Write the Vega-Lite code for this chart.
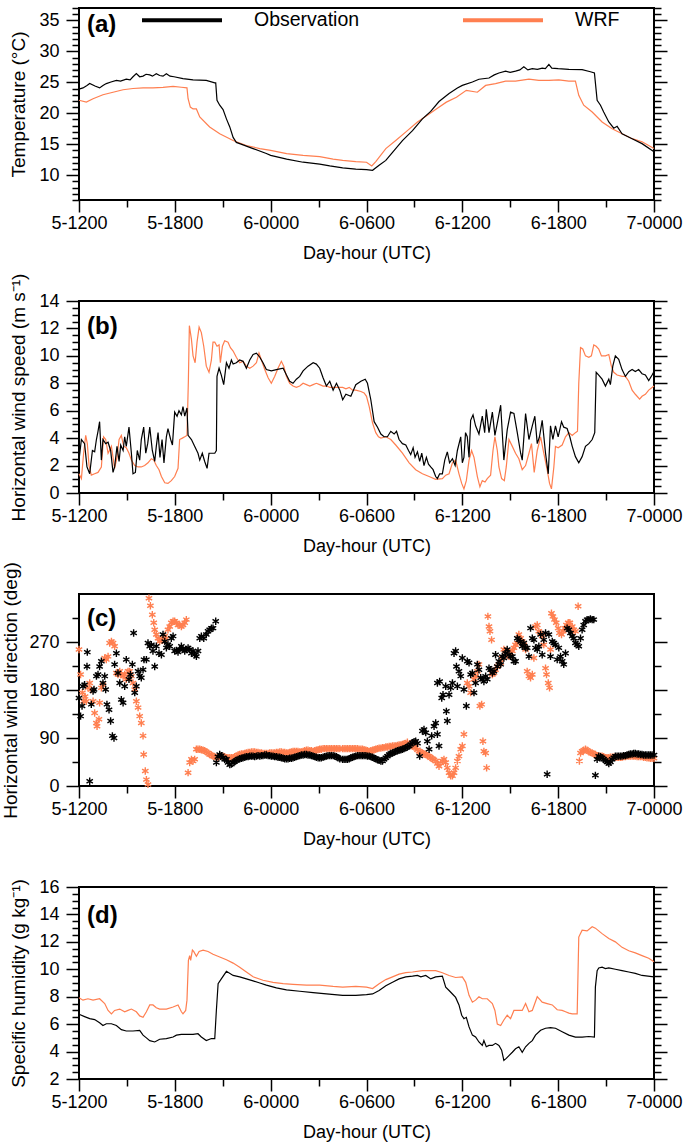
{
"$schema": "https://vega.github.io/schema/vega-lite/v6.json",
"background": "white",
"padding": {"left": 0, "top": 6, "right": 0, "bottom": 0},
"bounds": "flush",
"spacing": 101,
"config": {
  "font": "Liberation Sans",
  "view": {"stroke": "black", "strokeWidth": 2},
  "axis": {"grid": false, "domain": false, "tickColor": "black", "tickWidth": 1.5, "labelColor": "black", "labelFontSize": 18, "labelFont": "Liberation Sans", "titleFont": "Liberation Sans", "titleFontSize": 19, "titleFontWeight": "normal", "titleColor": "black", "labelOverlap": false, "labelFlush": false},
  "title": {"font": "Liberation Sans", "fontSize": 24, "fontWeight": "bold", "color": "black", "anchor": "start", "frame": "group", "baseline": "alphabetic", "dx": 8}
},
"resolve": {"scale": {"color": "independent"}, "legend": {"color": "independent"}},
"datasets": {
"aObs": [{"h":0,"v":23.9},{"h":0.25,"v":24.1},{"h":0.5,"v":24.5},{"h":0.67,"v":24.8},{"h":1.0,"v":24.4},{"h":1.29,"v":24.1},{"h":1.5,"v":24.5},{"h":1.71,"v":24.8},{"h":2.0,"v":25.05},{"h":2.34,"v":25.3},{"h":2.6,"v":25.2},{"h":2.96,"v":25.5},{"h":3.2,"v":25.4},{"h":3.38,"v":25.9},{"h":3.59,"v":26.4},{"h":3.8,"v":25.9},{"h":4.01,"v":26.0},{"h":4.2,"v":26.3},{"h":4.43,"v":26.2},{"h":4.6,"v":26.0},{"h":4.84,"v":26.4},{"h":5.05,"v":26.1},{"h":5.26,"v":26.0},{"h":5.47,"v":26.4},{"h":5.7,"v":26.0},{"h":5.95,"v":25.9},{"h":6.51,"v":25.6},{"h":7.14,"v":25.4},{"h":7.97,"v":25.3},{"h":8.5,"v":24.9},{"h":8.56,"v":24.9},{"h":8.64,"v":22.1},{"h":8.81,"v":21.3},{"h":9.02,"v":20.6},{"h":9.23,"v":19.1},{"h":9.44,"v":17.8},{"h":9.65,"v":16.1},{"h":9.85,"v":15.3},{"h":10.06,"v":15.1},{"h":10.9,"v":14.3},{"h":11.73,"v":13.5},{"h":12.0,"v":13.2},{"h":13.0,"v":12.6},{"h":14.03,"v":12.1},{"h":15.07,"v":11.8},{"h":15.7,"v":11.5},{"h":16.51,"v":11.2},{"h":17.33,"v":11.0},{"h":18.0,"v":10.9},{"h":18.38,"v":10.8},{"h":18.79,"v":11.6},{"h":19.21,"v":12.4},{"h":19.63,"v":13.7},{"h":20.25,"v":15.6},{"h":20.88,"v":17.2},{"h":21.5,"v":19.1},{"h":22.02,"v":20.3},{"h":22.54,"v":21.9},{"h":23.17,"v":23.2},{"h":23.69,"v":24.1},{"h":24.0,"v":24.5},{"h":24.63,"v":25.05},{"h":25.04,"v":25.5},{"h":25.67,"v":25.7},{"h":26.0,"v":26.2},{"h":26.29,"v":26.5},{"h":26.71,"v":26.8},{"h":27.0,"v":26.6},{"h":27.33,"v":26.8},{"h":27.6,"v":27.0},{"h":27.85,"v":27.5},{"h":28.1,"v":27.0},{"h":28.38,"v":27.2},{"h":28.7,"v":27.1},{"h":29.0,"v":27.3},{"h":29.2,"v":27.2},{"h":29.42,"v":27.9},{"h":29.6,"v":27.3},{"h":30.0,"v":27.2},{"h":30.67,"v":27.1},{"h":31.5,"v":27.05},{"h":32.02,"v":26.7},{"h":32.27,"v":26.5},{"h":32.44,"v":22.1},{"h":32.65,"v":21.3},{"h":32.85,"v":20.2},{"h":33.17,"v":18.6},{"h":33.48,"v":17.6},{"h":33.69,"v":17.9},{"h":34.0,"v":16.7},{"h":34.63,"v":15.9},{"h":35.25,"v":15.1},{"h":36,"v":13.8}],
"aWrf": [{"h":0,"v":22.1},{"h":0.46,"v":21.8},{"h":0.88,"v":22.35},{"h":1.5,"v":23.0},{"h":2.13,"v":23.4},{"h":2.76,"v":23.8},{"h":3.38,"v":24.0},{"h":4.01,"v":24.1},{"h":4.63,"v":24.1},{"h":5.26,"v":24.2},{"h":5.89,"v":24.35},{"h":6.41,"v":24.2},{"h":6.76,"v":24.1},{"h":6.83,"v":22.35},{"h":6.97,"v":21.0},{"h":7.14,"v":20.7},{"h":7.35,"v":20.7},{"h":7.56,"v":19.4},{"h":8.18,"v":17.8},{"h":8.81,"v":16.7},{"h":9.65,"v":15.6},{"h":10.48,"v":14.8},{"h":11.32,"v":14.3},{"h":12.0,"v":14.0},{"h":13.0,"v":13.5},{"h":14.03,"v":13.2},{"h":15.07,"v":13.0},{"h":15.91,"v":12.6},{"h":16.51,"v":12.4},{"h":17.33,"v":12.2},{"h":18.0,"v":12.1},{"h":18.33,"v":11.5},{"h":18.58,"v":12.2},{"h":19.21,"v":14.3},{"h":19.83,"v":15.6},{"h":20.56,"v":17.2},{"h":21.19,"v":18.6},{"h":21.81,"v":19.7},{"h":22.44,"v":20.8},{"h":23.0,"v":21.8},{"h":23.63,"v":22.6},{"h":24.25,"v":23.7},{"h":24.94,"v":23.4},{"h":25.46,"v":24.5},{"h":26.08,"v":24.8},{"h":26.71,"v":25.2},{"h":27.33,"v":25.2},{"h":28.17,"v":25.5},{"h":28.79,"v":25.3},{"h":29.42,"v":25.3},{"h":30.04,"v":25.4},{"h":30.67,"v":25.2},{"h":31.08,"v":25.2},{"h":31.29,"v":22.9},{"h":31.6,"v":21.3},{"h":32.13,"v":20.2},{"h":32.75,"v":18.6},{"h":33.38,"v":17.5},{"h":34.0,"v":16.7},{"h":34.63,"v":15.9},{"h":35.25,"v":15.4},{"h":36,"v":14.3}],
"bObs": [{"h":0,"v":2.4},{"h":0.15,"v":3.9},{"h":0.35,"v":3.6},{"h":0.5,"v":1.9},{"h":0.67,"v":1.4},{"h":0.84,"v":3.1},{"h":0.98,"v":3.0},{"h":1.09,"v":3.9},{"h":1.19,"v":4.5},{"h":1.29,"v":5.2},{"h":1.4,"v":2.4},{"h":1.5,"v":3.9},{"h":1.67,"v":3.6},{"h":1.82,"v":3.7},{"h":1.98,"v":3.1},{"h":2.13,"v":1.5},{"h":2.23,"v":1.9},{"h":2.38,"v":3.4},{"h":2.51,"v":2.3},{"h":2.61,"v":3.5},{"h":2.76,"v":3.1},{"h":2.86,"v":4.1},{"h":2.96,"v":3.4},{"h":3.13,"v":4.8},{"h":3.28,"v":2.9},{"h":3.38,"v":1.4},{"h":3.53,"v":1.5},{"h":3.65,"v":3.1},{"h":3.8,"v":2.4},{"h":3.9,"v":3.9},{"h":4.05,"v":4.8},{"h":4.18,"v":2.9},{"h":4.3,"v":3.6},{"h":4.43,"v":4.8},{"h":4.59,"v":3.1},{"h":4.74,"v":2.3},{"h":4.84,"v":3.4},{"h":4.95,"v":4.4},{"h":5.07,"v":2.6},{"h":5.2,"v":3.9},{"h":5.32,"v":2.2},{"h":5.47,"v":4.1},{"h":5.57,"v":4.7},{"h":5.74,"v":3.9},{"h":5.85,"v":3.5},{"h":5.99,"v":5.9},{"h":6.14,"v":5.6},{"h":6.26,"v":6.0},{"h":6.41,"v":5.7},{"h":6.51,"v":6.3},{"h":6.62,"v":5.6},{"h":6.76,"v":6.2},{"h":6.83,"v":4.2},{"h":7.04,"v":3.9},{"h":7.24,"v":3.4},{"h":7.45,"v":2.9},{"h":7.56,"v":2.4},{"h":7.72,"v":2.9},{"h":7.87,"v":2.3},{"h":8.02,"v":1.8},{"h":8.14,"v":2.9},{"h":8.29,"v":2.9},{"h":8.5,"v":2.9},{"h":8.6,"v":3.1},{"h":8.64,"v":8.5},{"h":8.77,"v":9.1},{"h":8.91,"v":8.6},{"h":9.06,"v":7.9},{"h":9.23,"v":9.5},{"h":9.39,"v":9.1},{"h":9.54,"v":9.7},{"h":9.65,"v":9.4},{"h":9.85,"v":9.5},{"h":10.06,"v":9.7},{"h":10.27,"v":9.6},{"h":10.48,"v":9.1},{"h":10.69,"v":9.7},{"h":10.9,"v":10.1},{"h":11.11,"v":10.2},{"h":11.32,"v":9.9},{"h":11.52,"v":9.5},{"h":11.73,"v":9.0},{"h":12.04,"v":8.9},{"h":12.36,"v":9.0},{"h":12.78,"v":9.1},{"h":12.99,"v":8.6},{"h":13.19,"v":8.15},{"h":13.4,"v":8.0},{"h":13.61,"v":8.3},{"h":13.82,"v":8.5},{"h":14.03,"v":8.9},{"h":14.34,"v":9.25},{"h":14.66,"v":9.5},{"h":14.86,"v":9.4},{"h":15.07,"v":9.1},{"h":15.28,"v":8.4},{"h":15.49,"v":7.8},{"h":15.7,"v":8.15},{"h":15.91,"v":7.5},{"h":16.12,"v":8.0},{"h":16.33,"v":7.5},{"h":16.51,"v":6.8},{"h":16.71,"v":7.2},{"h":17.02,"v":7.05},{"h":17.33,"v":7.9},{"h":17.65,"v":8.15},{"h":17.92,"v":8.3},{"h":18.06,"v":8.0},{"h":18.27,"v":6.8},{"h":18.48,"v":5.2},{"h":18.69,"v":4.8},{"h":18.9,"v":4.3},{"h":19.1,"v":4.1},{"h":19.31,"v":4.1},{"h":19.52,"v":4.5},{"h":19.73,"v":4.3},{"h":19.88,"v":4.5},{"h":20.04,"v":3.9},{"h":20.25,"v":3.6},{"h":20.46,"v":3.5},{"h":20.63,"v":3.1},{"h":20.77,"v":2.8},{"h":20.92,"v":3.3},{"h":21.04,"v":2.6},{"h":21.19,"v":3.0},{"h":21.33,"v":2.3},{"h":21.46,"v":2.9},{"h":21.6,"v":2.0},{"h":21.75,"v":2.6},{"h":21.88,"v":2.1},{"h":22.02,"v":1.9},{"h":22.17,"v":1.7},{"h":22.33,"v":1.2},{"h":22.44,"v":1.05},{"h":22.58,"v":1.4},{"h":22.75,"v":1.4},{"h":22.9,"v":2.4},{"h":23.06,"v":3.0},{"h":23.2,"v":2.2},{"h":23.38,"v":2.5},{"h":23.55,"v":2.0},{"h":23.69,"v":3.1},{"h":23.9,"v":4.1},{"h":24.0,"v":2.2},{"h":24.1,"v":2.6},{"h":24.2,"v":4.4},{"h":24.31,"v":4.1},{"h":24.42,"v":2.6},{"h":24.52,"v":5.3},{"h":24.67,"v":5.7},{"h":24.83,"v":4.9},{"h":25.04,"v":4.3},{"h":25.25,"v":5.6},{"h":25.4,"v":4.4},{"h":25.5,"v":6.1},{"h":25.67,"v":4.4},{"h":25.88,"v":5.9},{"h":26.04,"v":4.2},{"h":26.19,"v":5.1},{"h":26.4,"v":6.4},{"h":26.6,"v":2.4},{"h":26.81,"v":4.6},{"h":27.02,"v":5.9},{"h":27.23,"v":5.8},{"h":27.44,"v":4.4},{"h":27.65,"v":2.9},{"h":27.75,"v":2.4},{"h":27.96,"v":5.8},{"h":28.17,"v":3.9},{"h":28.38,"v":4.9},{"h":28.54,"v":5.6},{"h":28.69,"v":3.6},{"h":28.83,"v":4.1},{"h":29.0,"v":5.3},{"h":29.21,"v":2.9},{"h":29.38,"v":1.4},{"h":29.52,"v":4.9},{"h":29.67,"v":3.9},{"h":29.83,"v":4.9},{"h":30.0,"v":4.1},{"h":30.21,"v":5.2},{"h":30.35,"v":4.8},{"h":30.56,"v":4.7},{"h":30.73,"v":4.1},{"h":30.88,"v":3.4},{"h":31.08,"v":2.65},{"h":31.29,"v":2.2},{"h":31.5,"v":2.65},{"h":31.71,"v":3.4},{"h":31.92,"v":3.6},{"h":32.13,"v":3.9},{"h":32.29,"v":4.4},{"h":32.38,"v":8.8},{"h":32.54,"v":8.6},{"h":32.75,"v":8.3},{"h":32.96,"v":7.8},{"h":33.17,"v":8.3},{"h":33.27,"v":7.9},{"h":33.42,"v":9.25},{"h":33.58,"v":10.0},{"h":33.79,"v":9.75},{"h":34.0,"v":9.0},{"h":34.21,"v":8.5},{"h":34.42,"v":8.85},{"h":34.63,"v":9.0},{"h":34.83,"v":8.85},{"h":35.04,"v":9.0},{"h":35.25,"v":8.7},{"h":35.46,"v":8.6},{"h":35.67,"v":8.2},{"h":35.88,"v":8.6},{"h":36,"v":8.85}],
"bWrf": [{"h":0,"v":1.4},{"h":0.15,"v":1.05},{"h":0.29,"v":2.9},{"h":0.42,"v":4.2},{"h":0.52,"v":3.6},{"h":0.63,"v":2.0},{"h":0.77,"v":1.3},{"h":0.98,"v":1.4},{"h":1.19,"v":1.5},{"h":1.4,"v":1.9},{"h":1.54,"v":4.1},{"h":1.67,"v":3.9},{"h":1.82,"v":2.9},{"h":2.03,"v":3.4},{"h":2.23,"v":1.8},{"h":2.38,"v":2.6},{"h":2.51,"v":3.9},{"h":2.65,"v":4.2},{"h":2.8,"v":3.4},{"h":2.96,"v":3.3},{"h":3.13,"v":2.9},{"h":3.28,"v":2.4},{"h":3.49,"v":2.0},{"h":3.7,"v":1.9},{"h":3.9,"v":1.9},{"h":4.11,"v":2.0},{"h":4.32,"v":2.2},{"h":4.53,"v":2.5},{"h":4.68,"v":2.4},{"h":4.84,"v":2.0},{"h":5.01,"v":1.7},{"h":5.16,"v":1.2},{"h":5.37,"v":0.75},{"h":5.57,"v":0.7},{"h":5.78,"v":0.9},{"h":5.99,"v":1.2},{"h":6.2,"v":1.8},{"h":6.3,"v":3.9},{"h":6.47,"v":4.0},{"h":6.62,"v":4.1},{"h":6.76,"v":4.2},{"h":6.85,"v":8.3},{"h":6.91,"v":12.2},{"h":7.04,"v":11.2},{"h":7.14,"v":10.0},{"h":7.27,"v":9.5},{"h":7.39,"v":11.0},{"h":7.52,"v":12.1},{"h":7.66,"v":11.7},{"h":7.81,"v":10.7},{"h":7.97,"v":9.25},{"h":8.14,"v":8.8},{"h":8.29,"v":9.7},{"h":8.39,"v":11.0},{"h":8.5,"v":11.0},{"h":8.64,"v":10.7},{"h":8.77,"v":10.8},{"h":8.85,"v":9.5},{"h":8.98,"v":10.7},{"h":9.12,"v":11.1},{"h":9.33,"v":11.0},{"h":9.48,"v":10.6},{"h":9.65,"v":10.35},{"h":9.85,"v":9.9},{"h":10.06,"v":9.5},{"h":10.27,"v":9.6},{"h":10.48,"v":9.25},{"h":10.69,"v":9.1},{"h":10.9,"v":9.25},{"h":11.11,"v":9.5},{"h":11.27,"v":10.2},{"h":11.42,"v":9.7},{"h":11.63,"v":9.0},{"h":11.84,"v":8.4},{"h":12.04,"v":8.0},{"h":12.25,"v":8.5},{"h":12.46,"v":9.1},{"h":12.67,"v":9.6},{"h":12.82,"v":9.25},{"h":12.99,"v":8.5},{"h":13.19,"v":8.0},{"h":13.4,"v":7.8},{"h":13.61,"v":7.7},{"h":13.82,"v":7.8},{"h":14.03,"v":8.0},{"h":14.24,"v":7.9},{"h":14.45,"v":7.8},{"h":14.66,"v":7.9},{"h":14.86,"v":8.0},{"h":15.07,"v":7.9},{"h":15.28,"v":7.8},{"h":15.49,"v":7.8},{"h":15.7,"v":7.7},{"h":15.91,"v":7.7},{"h":16.12,"v":7.7},{"h":16.51,"v":7.7},{"h":16.71,"v":7.6},{"h":16.92,"v":7.7},{"h":17.13,"v":7.5},{"h":17.33,"v":7.5},{"h":17.65,"v":7.4},{"h":17.85,"v":7.3},{"h":18.0,"v":7.05},{"h":18.17,"v":6.3},{"h":18.38,"v":5.1},{"h":18.58,"v":4.4},{"h":18.75,"v":4.1},{"h":18.9,"v":4.0},{"h":19.21,"v":4.1},{"h":19.52,"v":3.9},{"h":19.83,"v":3.5},{"h":20.25,"v":2.9},{"h":20.67,"v":2.2},{"h":21.08,"v":1.7},{"h":21.5,"v":1.4},{"h":21.92,"v":1.2},{"h":22.33,"v":1.0},{"h":22.75,"v":1.05},{"h":22.96,"v":1.3},{"h":23.17,"v":1.4},{"h":23.38,"v":2.2},{"h":23.58,"v":2.4},{"h":23.79,"v":1.4},{"h":23.96,"v":0.7},{"h":24.1,"v":0.3},{"h":24.25,"v":0.9},{"h":24.42,"v":2.4},{"h":24.58,"v":3.1},{"h":24.73,"v":2.6},{"h":24.94,"v":1.2},{"h":25.1,"v":0.45},{"h":25.25,"v":0.9},{"h":25.42,"v":0.8},{"h":25.56,"v":1.05},{"h":25.77,"v":1.3},{"h":25.92,"v":3.1},{"h":26.04,"v":4.1},{"h":26.19,"v":3.1},{"h":26.29,"v":1.9},{"h":26.46,"v":1.05},{"h":26.63,"v":0.9},{"h":26.75,"v":1.9},{"h":26.92,"v":3.9},{"h":27.13,"v":3.4},{"h":27.33,"v":2.9},{"h":27.54,"v":2.5},{"h":27.75,"v":1.7},{"h":27.96,"v":2.0},{"h":28.17,"v":2.9},{"h":28.33,"v":3.6},{"h":28.5,"v":1.5},{"h":28.69,"v":3.1},{"h":28.9,"v":4.1},{"h":29.1,"v":2.9},{"h":29.31,"v":1.7},{"h":29.46,"v":0.7},{"h":29.58,"v":0.3},{"h":29.73,"v":1.9},{"h":29.83,"v":3.4},{"h":30.0,"v":3.3},{"h":30.25,"v":3.5},{"h":30.46,"v":4.1},{"h":30.67,"v":4.4},{"h":30.88,"v":4.2},{"h":31.08,"v":4.4},{"h":31.21,"v":4.5},{"h":31.29,"v":8.0},{"h":31.4,"v":10.6},{"h":31.54,"v":10.5},{"h":31.71,"v":10.0},{"h":31.92,"v":9.9},{"h":32.08,"v":10.0},{"h":32.23,"v":10.8},{"h":32.38,"v":10.7},{"h":32.54,"v":10.5},{"h":32.71,"v":10.0},{"h":32.96,"v":10.0},{"h":33.17,"v":10.1},{"h":33.33,"v":9.25},{"h":33.48,"v":8.8},{"h":33.69,"v":8.6},{"h":34.0,"v":8.5},{"h":34.21,"v":8.5},{"h":34.42,"v":8.15},{"h":34.63,"v":7.5},{"h":34.83,"v":7.2},{"h":35.1,"v":6.85},{"h":35.25,"v":7.05},{"h":35.46,"v":7.2},{"h":35.67,"v":7.5},{"h":36,"v":7.8}],
"cObs": [{"h":0.0,"v":165},{"h":0.1,"v":131},{"h":0.19,"v":150},{"h":0.25,"v":187},{"h":0.35,"v":190},{"h":0.5,"v":224},{"h":0.52,"v":251},{"h":0.67,"v":9},{"h":0.77,"v":153},{"h":0.88,"v":178},{"h":0.94,"v":181},{"h":1.09,"v":206},{"h":1.19,"v":209},{"h":1.29,"v":224},{"h":1.4,"v":234},{"h":1.5,"v":193},{"h":1.61,"v":206},{"h":1.67,"v":181},{"h":1.75,"v":153},{"h":1.88,"v":143},{"h":1.98,"v":122},{"h":2.09,"v":94},{"h":2.19,"v":90},{"h":2.23,"v":228},{"h":2.34,"v":249},{"h":2.44,"v":212},{"h":2.55,"v":193},{"h":2.65,"v":162},{"h":2.76,"v":156},{"h":2.86,"v":187},{"h":2.96,"v":237},{"h":3.13,"v":200},{"h":3.22,"v":209},{"h":3.34,"v":228},{"h":3.42,"v":287},{"h":3.49,"v":175},{"h":3.59,"v":187},{"h":3.7,"v":215},{"h":3.8,"v":206},{"h":3.9,"v":203},{"h":4.01,"v":218},{"h":4.07,"v":237},{"h":4.22,"v":237},{"h":4.32,"v":268},{"h":4.43,"v":262},{"h":4.53,"v":265},{"h":4.63,"v":253},{"h":4.74,"v":224},{"h":4.84,"v":262},{"h":5.01,"v":249},{"h":5.16,"v":246},{"h":5.26,"v":284},{"h":5.37,"v":271},{"h":5.47,"v":259},{"h":5.57,"v":265},{"h":5.68,"v":262},{"h":5.78,"v":277},{"h":5.89,"v":281},{"h":5.99,"v":253},{"h":6.1,"v":254},{"h":6.2,"v":251},{"h":6.3,"v":256},{"h":6.41,"v":262},{"h":6.51,"v":257},{"h":6.62,"v":253},{"h":6.72,"v":256},{"h":6.83,"v":259},{"h":6.93,"v":256},{"h":7.04,"v":249},{"h":7.14,"v":253},{"h":7.24,"v":246},{"h":7.35,"v":243},{"h":7.45,"v":253},{"h":7.56,"v":277},{"h":7.66,"v":281},{"h":7.81,"v":277},{"h":7.97,"v":284},{"h":8.08,"v":290},{"h":8.18,"v":293},{"h":8.29,"v":296},{"h":8.39,"v":296},{"h":8.56,"v":309},{"h":8.6,"v":44},{"h":8.7,"v":55},{"h":8.81,"v":59},{"h":8.91,"v":57},{"h":9.02,"v":53},{"h":9.12,"v":50},{"h":9.23,"v":50},{"h":9.33,"v":44},{"h":9.44,"v":40},{"h":9.54,"v":41},{"h":9.65,"v":44},{"h":9.75,"v":46},{"h":9.85,"v":48},{"h":9.96,"v":50},{"h":10.06,"v":51},{"h":10.17,"v":52},{"h":10.27,"v":53},{"h":10.38,"v":54},{"h":10.48,"v":55},{"h":10.59,"v":55},{"h":10.69,"v":56},{"h":10.8,"v":56},{"h":10.9,"v":56},{"h":11.0,"v":55},{"h":11.11,"v":56},{"h":11.21,"v":57},{"h":11.32,"v":56},{"h":11.42,"v":57},{"h":11.52,"v":57},{"h":11.63,"v":58},{"h":11.73,"v":58},{"h":11.84,"v":57},{"h":11.94,"v":57},{"h":12.04,"v":56},{"h":12.15,"v":56},{"h":12.25,"v":55},{"h":12.36,"v":55},{"h":12.46,"v":54},{"h":12.57,"v":54},{"h":12.67,"v":53},{"h":12.78,"v":52},{"h":12.88,"v":51},{"h":12.99,"v":51},{"h":13.09,"v":51},{"h":13.19,"v":52},{"h":13.3,"v":52},{"h":13.4,"v":53},{"h":13.5,"v":54},{"h":13.61,"v":55},{"h":13.71,"v":56},{"h":13.82,"v":57},{"h":13.92,"v":58},{"h":14.03,"v":58},{"h":14.13,"v":59},{"h":14.24,"v":59},{"h":14.34,"v":58},{"h":14.45,"v":58},{"h":14.55,"v":57},{"h":14.66,"v":56},{"h":14.76,"v":55},{"h":14.86,"v":54},{"h":14.97,"v":53},{"h":15.07,"v":53},{"h":15.17,"v":53},{"h":15.28,"v":54},{"h":15.38,"v":55},{"h":15.49,"v":56},{"h":15.59,"v":57},{"h":15.7,"v":57},{"h":15.8,"v":57},{"h":15.91,"v":57},{"h":16.01,"v":56},{"h":16.12,"v":55},{"h":16.22,"v":53},{"h":16.33,"v":51},{"h":16.5,"v":50},{"h":16.6,"v":50},{"h":16.71,"v":50},{"h":16.81,"v":50},{"h":16.92,"v":51},{"h":17.02,"v":53},{"h":17.13,"v":54},{"h":17.23,"v":55},{"h":17.33,"v":56},{"h":17.44,"v":57},{"h":17.54,"v":57},{"h":17.65,"v":57},{"h":17.75,"v":57},{"h":17.85,"v":57},{"h":17.96,"v":57},{"h":18.06,"v":56},{"h":18.17,"v":56},{"h":18.27,"v":55},{"h":18.38,"v":54},{"h":18.48,"v":52},{"h":18.58,"v":51},{"h":18.69,"v":49},{"h":18.79,"v":48},{"h":18.9,"v":47},{"h":19.0,"v":47},{"h":19.1,"v":50},{"h":19.21,"v":53},{"h":19.31,"v":56},{"h":19.42,"v":59},{"h":19.52,"v":61},{"h":19.63,"v":62},{"h":19.73,"v":63},{"h":19.83,"v":65},{"h":19.94,"v":66},{"h":20.04,"v":67},{"h":20.15,"v":68},{"h":20.25,"v":69},{"h":20.35,"v":70},{"h":20.46,"v":72},{"h":20.56,"v":73},{"h":20.67,"v":75},{"h":20.77,"v":78},{"h":20.88,"v":81},{"h":20.98,"v":83},{"h":21.08,"v":84},{"h":21.19,"v":80},{"h":21.33,"v":56},{"h":21.5,"v":103},{"h":21.6,"v":106},{"h":21.71,"v":100},{"h":21.81,"v":84},{"h":21.92,"v":69},{"h":22.08,"v":94},{"h":22.23,"v":112},{"h":22.33,"v":118},{"h":22.44,"v":97},{"h":22.54,"v":75},{"h":22.44,"v":193},{"h":22.58,"v":196},{"h":22.71,"v":165},{"h":22.79,"v":171},{"h":22.96,"v":187},{"h":23.0,"v":140},{"h":23.06,"v":122},{"h":23.17,"v":171},{"h":23.27,"v":184},{"h":23.38,"v":193},{"h":23.48,"v":249},{"h":23.58,"v":253},{"h":23.63,"v":224},{"h":23.69,"v":187},{"h":23.79,"v":215},{"h":23.9,"v":206},{"h":24.0,"v":240},{"h":24.1,"v":181},{"h":24.25,"v":150},{"h":24.31,"v":234},{"h":24.42,"v":231},{"h":24.52,"v":209},{"h":24.63,"v":212},{"h":24.73,"v":175},{"h":24.83,"v":193},{"h":24.94,"v":228},{"h":25.04,"v":218},{"h":25.15,"v":203},{"h":25.25,"v":200},{"h":25.35,"v":196},{"h":25.46,"v":206},{"h":25.56,"v":200},{"h":25.67,"v":221},{"h":25.77,"v":218},{"h":25.88,"v":212},{"h":25.98,"v":215},{"h":26.08,"v":246},{"h":26.19,"v":224},{"h":26.29,"v":234},{"h":26.4,"v":228},{"h":26.5,"v":243},{"h":26.6,"v":240},{"h":26.71,"v":249},{"h":26.81,"v":256},{"h":26.92,"v":246},{"h":27.02,"v":243},{"h":27.13,"v":243},{"h":27.23,"v":234},{"h":27.33,"v":234},{"h":27.44,"v":277},{"h":27.54,"v":274},{"h":27.65,"v":271},{"h":27.75,"v":262},{"h":27.85,"v":268},{"h":27.96,"v":259},{"h":28.06,"v":259},{"h":28.17,"v":243},{"h":28.27,"v":296},{"h":28.38,"v":277},{"h":28.48,"v":274},{"h":28.58,"v":259},{"h":28.69,"v":256},{"h":28.79,"v":262},{"h":28.9,"v":284},{"h":29.0,"v":246},{"h":29.1,"v":274},{"h":29.21,"v":287},{"h":29.31,"v":22},{"h":29.42,"v":284},{"h":29.52,"v":243},{"h":29.63,"v":271},{"h":29.73,"v":268},{"h":29.83,"v":265},{"h":29.94,"v":237},{"h":30.04,"v":259},{"h":30.15,"v":243},{"h":30.25,"v":234},{"h":30.35,"v":228},{"h":30.46,"v":249},{"h":30.56,"v":296},{"h":30.67,"v":293},{"h":30.77,"v":287},{"h":30.88,"v":281},{"h":30.98,"v":277},{"h":31.08,"v":268},{"h":31.19,"v":265},{"h":31.29,"v":262},{"h":31.4,"v":277},{"h":31.5,"v":293},{"h":31.6,"v":302},{"h":31.71,"v":309},{"h":31.81,"v":312},{"h":31.92,"v":312},{"h":32.02,"v":313},{"h":32.13,"v":312},{"h":32.23,"v":312},{"h":32.33,"v":20},{"h":32.44,"v":50},{"h":32.54,"v":56},{"h":32.65,"v":55},{"h":32.75,"v":53},{"h":32.85,"v":50},{"h":32.96,"v":48},{"h":33.06,"v":45},{"h":33.17,"v":42},{"h":33.27,"v":45},{"h":33.38,"v":50},{"h":33.48,"v":53},{"h":33.58,"v":56},{"h":33.69,"v":56},{"h":33.79,"v":56},{"h":33.9,"v":56},{"h":34.0,"v":56},{"h":34.1,"v":57},{"h":34.21,"v":57},{"h":34.31,"v":58},{"h":34.42,"v":59},{"h":34.52,"v":60},{"h":34.63,"v":60},{"h":34.73,"v":61},{"h":34.83,"v":61},{"h":34.94,"v":60},{"h":35.04,"v":60},{"h":35.15,"v":59},{"h":35.25,"v":59},{"h":35.35,"v":58},{"h":35.46,"v":58},{"h":35.56,"v":58},{"h":35.67,"v":58},{"h":35.77,"v":58},{"h":35.88,"v":58},{"h":36.0,"v":58}],
"cWrf": [{"h":0.0,"v":256},{"h":0.1,"v":209},{"h":0.21,"v":175},{"h":0.29,"v":159},{"h":0.38,"v":168},{"h":0.46,"v":159},{"h":0.56,"v":184},{"h":0.67,"v":193},{"h":0.77,"v":181},{"h":0.88,"v":159},{"h":0.98,"v":137},{"h":1.09,"v":118},{"h":1.13,"v":112},{"h":1.25,"v":125},{"h":1.29,"v":156},{"h":1.4,"v":184},{"h":1.5,"v":190},{"h":1.61,"v":240},{"h":1.71,"v":237},{"h":1.82,"v":243},{"h":1.92,"v":268},{"h":2.03,"v":271},{"h":2.13,"v":268},{"h":2.23,"v":262},{"h":2.34,"v":212},{"h":2.44,"v":209},{"h":2.55,"v":215},{"h":2.65,"v":209},{"h":2.76,"v":206},{"h":2.86,"v":209},{"h":2.96,"v":200},{"h":3.07,"v":215},{"h":3.17,"v":215},{"h":3.28,"v":206},{"h":3.38,"v":193},{"h":3.49,"v":181},{"h":3.59,"v":159},{"h":3.7,"v":147},{"h":3.8,"v":131},{"h":3.9,"v":118},{"h":4.01,"v":94},{"h":4.05,"v":59},{"h":4.15,"v":28},{"h":4.22,"v":12},{"h":4.32,"v":3},{"h":4.38,"v":352},{"h":4.47,"v":338},{"h":4.59,"v":321},{"h":4.68,"v":306},{"h":4.74,"v":293},{"h":4.84,"v":284},{"h":4.95,"v":277},{"h":5.05,"v":271},{"h":5.16,"v":274},{"h":5.26,"v":274},{"h":5.37,"v":281},{"h":5.47,"v":277},{"h":5.57,"v":293},{"h":5.68,"v":299},{"h":5.78,"v":306},{"h":5.89,"v":309},{"h":5.99,"v":309},{"h":6.1,"v":306},{"h":6.2,"v":302},{"h":6.3,"v":302},{"h":6.41,"v":299},{"h":6.51,"v":302},{"h":6.62,"v":306},{"h":6.72,"v":312},{"h":6.83,"v":25},{"h":6.93,"v":44},{"h":7.04,"v":50},{"h":7.14,"v":47},{"h":7.24,"v":50},{"h":7.35,"v":69},{"h":7.45,"v":69},{"h":7.56,"v":69},{"h":7.66,"v":68},{"h":7.77,"v":67},{"h":7.87,"v":66},{"h":7.97,"v":64},{"h":8.08,"v":62},{"h":8.18,"v":59},{"h":8.29,"v":58},{"h":8.39,"v":56},{"h":8.5,"v":55},{"h":8.6,"v":53},{"h":8.7,"v":54},{"h":8.81,"v":56},{"h":8.91,"v":56},{"h":9.02,"v":56},{"h":9.12,"v":55},{"h":9.23,"v":53},{"h":9.33,"v":53},{"h":9.44,"v":53},{"h":9.54,"v":53},{"h":9.65,"v":53},{"h":9.75,"v":55},{"h":9.85,"v":56},{"h":9.96,"v":58},{"h":10.06,"v":59},{"h":10.17,"v":60},{"h":10.27,"v":60},{"h":10.38,"v":61},{"h":10.48,"v":62},{"h":10.59,"v":63},{"h":10.69,"v":63},{"h":10.8,"v":64},{"h":10.9,"v":64},{"h":11.0,"v":64},{"h":11.11,"v":63},{"h":11.21,"v":63},{"h":11.32,"v":62},{"h":11.42,"v":62},{"h":11.52,"v":61},{"h":11.63,"v":61},{"h":11.73,"v":61},{"h":11.84,"v":61},{"h":11.94,"v":62},{"h":12.04,"v":62},{"h":12.15,"v":62},{"h":12.25,"v":62},{"h":12.36,"v":63},{"h":12.46,"v":63},{"h":12.57,"v":64},{"h":12.67,"v":64},{"h":12.78,"v":63},{"h":12.88,"v":63},{"h":12.99,"v":62},{"h":13.09,"v":62},{"h":13.19,"v":63},{"h":13.3,"v":64},{"h":13.4,"v":65},{"h":13.5,"v":65},{"h":13.61,"v":65},{"h":13.71,"v":65},{"h":13.82,"v":64},{"h":13.92,"v":64},{"h":14.03,"v":65},{"h":14.13,"v":66},{"h":14.24,"v":67},{"h":14.34,"v":67},{"h":14.45,"v":66},{"h":14.55,"v":66},{"h":14.66,"v":65},{"h":14.76,"v":66},{"h":14.86,"v":67},{"h":14.97,"v":68},{"h":15.07,"v":69},{"h":15.17,"v":69},{"h":15.28,"v":70},{"h":15.38,"v":70},{"h":15.49,"v":70},{"h":15.59,"v":70},{"h":15.7,"v":70},{"h":15.8,"v":70},{"h":15.91,"v":70},{"h":16.01,"v":70},{"h":16.12,"v":70},{"h":16.22,"v":70},{"h":16.33,"v":70},{"h":16.5,"v":70},{"h":16.6,"v":70},{"h":16.71,"v":70},{"h":16.81,"v":70},{"h":16.92,"v":70},{"h":17.02,"v":70},{"h":17.13,"v":70},{"h":17.23,"v":70},{"h":17.33,"v":70},{"h":17.44,"v":70},{"h":17.54,"v":69},{"h":17.65,"v":69},{"h":17.75,"v":69},{"h":17.85,"v":68},{"h":17.96,"v":67},{"h":18.06,"v":66},{"h":18.17,"v":65},{"h":18.27,"v":66},{"h":18.38,"v":67},{"h":18.48,"v":68},{"h":18.58,"v":69},{"h":18.69,"v":70},{"h":18.79,"v":71},{"h":18.9,"v":71},{"h":19.0,"v":72},{"h":19.1,"v":72},{"h":19.21,"v":73},{"h":19.31,"v":73},{"h":19.42,"v":74},{"h":19.52,"v":74},{"h":19.63,"v":75},{"h":19.73,"v":75},{"h":19.83,"v":75},{"h":19.94,"v":76},{"h":20.04,"v":77},{"h":20.15,"v":77},{"h":20.25,"v":78},{"h":20.35,"v":79},{"h":20.46,"v":80},{"h":20.56,"v":82},{"h":20.73,"v":79},{"h":20.88,"v":75},{"h":20.98,"v":73},{"h":21.08,"v":72},{"h":21.19,"v":68},{"h":21.29,"v":65},{"h":21.4,"v":63},{"h":21.5,"v":62},{"h":21.6,"v":60},{"h":21.71,"v":59},{"h":21.81,"v":57},{"h":21.92,"v":56},{"h":22.02,"v":53},{"h":22.13,"v":51},{"h":22.23,"v":49},{"h":22.33,"v":47},{"h":22.44,"v":42},{"h":22.54,"v":37},{"h":22.65,"v":43},{"h":22.75,"v":47},{"h":22.85,"v":50},{"h":22.96,"v":44},{"h":23.06,"v":34},{"h":23.17,"v":25},{"h":23.27,"v":19},{"h":23.38,"v":19},{"h":23.48,"v":25},{"h":23.58,"v":34},{"h":23.69,"v":47},{"h":23.79,"v":56},{"h":23.9,"v":69},{"h":24.0,"v":75},{"h":24.1,"v":97},{"h":24.31,"v":193},{"h":24.42,"v":187},{"h":24.52,"v":175},{"h":24.73,"v":200},{"h":24.83,"v":206},{"h":24.94,"v":215},{"h":25.04,"v":228},{"h":25.1,"v":150},{"h":25.21,"v":153},{"h":25.29,"v":84},{"h":25.35,"v":65},{"h":25.46,"v":62},{"h":25.52,"v":34},{"h":25.6,"v":318},{"h":25.67,"v":299},{"h":25.73,"v":290},{"h":25.83,"v":274},{"h":25.88,"v":209},{"h":25.98,"v":212},{"h":26.08,"v":218},{"h":26.19,"v":224},{"h":26.29,"v":228},{"h":26.4,"v":231},{"h":26.5,"v":240},{"h":26.6,"v":256},{"h":26.71,"v":253},{"h":26.81,"v":246},{"h":26.92,"v":243},{"h":27.02,"v":249},{"h":27.13,"v":253},{"h":27.23,"v":259},{"h":27.33,"v":265},{"h":27.44,"v":268},{"h":27.54,"v":284},{"h":27.65,"v":277},{"h":27.75,"v":271},{"h":27.85,"v":265},{"h":27.96,"v":256},{"h":28.06,"v":215},{"h":28.17,"v":206},{"h":28.27,"v":203},{"h":28.38,"v":209},{"h":28.48,"v":240},{"h":28.58,"v":299},{"h":28.69,"v":302},{"h":28.79,"v":290},{"h":28.9,"v":287},{"h":29.0,"v":281},{"h":29.1,"v":265},{"h":29.21,"v":221},{"h":29.27,"v":209},{"h":29.38,"v":193},{"h":29.46,"v":184},{"h":29.52,"v":256},{"h":29.58,"v":324},{"h":29.67,"v":318},{"h":29.77,"v":312},{"h":29.88,"v":306},{"h":30.0,"v":296},{"h":30.08,"v":287},{"h":30.21,"v":284},{"h":30.31,"v":290},{"h":30.42,"v":296},{"h":30.52,"v":302},{"h":30.63,"v":306},{"h":30.73,"v":306},{"h":30.88,"v":299},{"h":30.98,"v":293},{"h":31.08,"v":290},{"h":31.25,"v":337},{"h":31.33,"v":47},{"h":31.4,"v":62},{"h":31.5,"v":65},{"h":31.6,"v":67},{"h":31.71,"v":69},{"h":31.81,"v":67},{"h":31.92,"v":64},{"h":32.02,"v":63},{"h":32.13,"v":62},{"h":32.23,"v":60},{"h":32.33,"v":59},{"h":32.44,"v":57},{"h":32.54,"v":56},{"h":32.65,"v":56},{"h":32.75,"v":56},{"h":32.85,"v":55},{"h":32.96,"v":53},{"h":33.06,"v":53},{"h":33.17,"v":53},{"h":33.27,"v":54},{"h":33.38,"v":54},{"h":33.48,"v":54},{"h":33.58,"v":54},{"h":33.69,"v":54},{"h":33.79,"v":54},{"h":33.9,"v":54},{"h":34.0,"v":54},{"h":34.1,"v":55},{"h":34.21,"v":55},{"h":34.31,"v":56},{"h":34.42,"v":56},{"h":34.52,"v":56},{"h":34.63,"v":56},{"h":34.73,"v":56},{"h":34.83,"v":56},{"h":34.94,"v":55},{"h":35.04,"v":55},{"h":35.15,"v":55},{"h":35.25,"v":55},{"h":35.35,"v":54},{"h":35.46,"v":54},{"h":35.56,"v":53},{"h":35.67,"v":53},{"h":35.77,"v":52},{"h":35.88,"v":52},{"h":36.0,"v":52}],
"dObs": [{"h":0.04,"v":6.7},{"h":0.35,"v":6.55},{"h":0.67,"v":6.4},{"h":0.98,"v":6.33},{"h":1.29,"v":6.1},{"h":1.5,"v":5.9},{"h":1.71,"v":6.03},{"h":2.03,"v":6.03},{"h":2.34,"v":5.9},{"h":2.65,"v":5.6},{"h":2.96,"v":5.5},{"h":3.38,"v":5.5},{"h":3.8,"v":5.55},{"h":4.01,"v":5.2},{"h":4.22,"v":5.0},{"h":4.43,"v":4.8},{"h":4.74,"v":4.7},{"h":5.05,"v":4.9},{"h":5.47,"v":4.95},{"h":5.89,"v":5.06},{"h":6.1,"v":5.2},{"h":6.41,"v":5.25},{"h":6.72,"v":5.25},{"h":7.14,"v":5.25},{"h":7.45,"v":5.3},{"h":7.66,"v":5.06},{"h":7.97,"v":4.8},{"h":8.29,"v":4.95},{"h":8.5,"v":4.95},{"h":8.6,"v":7.0},{"h":8.71,"v":8.95},{"h":8.91,"v":9.3},{"h":9.23,"v":9.85},{"h":9.65,"v":9.55},{"h":10.06,"v":9.45},{"h":10.48,"v":9.3},{"h":10.9,"v":9.15},{"h":11.32,"v":9.0},{"h":11.73,"v":8.85},{"h":12.36,"v":8.65},{"h":12.99,"v":8.5},{"h":13.82,"v":8.4},{"h":14.66,"v":8.3},{"h":15.49,"v":8.2},{"h":16.51,"v":8.1},{"h":17.33,"v":8.1},{"h":18.0,"v":8.15},{"h":18.38,"v":8.2},{"h":18.79,"v":8.45},{"h":19.21,"v":8.8},{"h":19.63,"v":9.05},{"h":20.04,"v":9.3},{"h":20.46,"v":9.45},{"h":20.88,"v":9.5},{"h":21.19,"v":9.55},{"h":21.4,"v":9.45},{"h":21.71,"v":9.55},{"h":22.02,"v":9.3},{"h":22.33,"v":9.45},{"h":22.75,"v":9.5},{"h":22.96,"v":8.7},{"h":23.17,"v":8.45},{"h":23.38,"v":8.2},{"h":23.58,"v":7.95},{"h":23.79,"v":7.4},{"h":23.96,"v":6.65},{"h":24.1,"v":6.4},{"h":24.25,"v":6.5},{"h":24.42,"v":5.8},{"h":24.63,"v":5.2},{"h":24.83,"v":5.06},{"h":25.04,"v":4.7},{"h":25.25,"v":4.45},{"h":25.35,"v":4.8},{"h":25.5,"v":4.35},{"h":25.67,"v":4.45},{"h":25.88,"v":4.45},{"h":26.08,"v":4.6},{"h":26.29,"v":4.45},{"h":26.46,"v":4.1},{"h":26.6,"v":3.35},{"h":26.75,"v":3.5},{"h":26.92,"v":3.7},{"h":27.13,"v":3.95},{"h":27.33,"v":4.2},{"h":27.54,"v":4.35},{"h":27.75,"v":3.95},{"h":27.96,"v":4.35},{"h":28.17,"v":4.6},{"h":28.38,"v":4.8},{"h":28.58,"v":5.2},{"h":28.9,"v":5.55},{"h":29.21,"v":5.7},{"h":29.52,"v":5.75},{"h":29.83,"v":5.7},{"h":30.25,"v":5.45},{"h":30.67,"v":5.2},{"h":31.08,"v":5.06},{"h":31.5,"v":5.06},{"h":31.92,"v":5.1},{"h":32.27,"v":5.06},{"h":32.33,"v":8.7},{"h":32.44,"v":9.9},{"h":32.54,"v":10.1},{"h":32.75,"v":10.15},{"h":32.96,"v":10.05},{"h":33.17,"v":10.1},{"h":33.58,"v":10.0},{"h":34.0,"v":9.9},{"h":34.42,"v":9.8},{"h":34.83,"v":9.7},{"h":35.25,"v":9.55},{"h":36,"v":9.45}],
"dWrf": [{"h":0,"v":7.93},{"h":0.25,"v":7.75},{"h":0.56,"v":7.85},{"h":0.88,"v":7.75},{"h":1.29,"v":7.85},{"h":1.61,"v":7.5},{"h":1.82,"v":7.0},{"h":2.03,"v":6.75},{"h":2.23,"v":7.0},{"h":2.55,"v":7.1},{"h":2.86,"v":6.9},{"h":3.07,"v":7.0},{"h":3.28,"v":7.1},{"h":3.59,"v":6.9},{"h":3.8,"v":6.6},{"h":4.01,"v":6.5},{"h":4.22,"v":6.9},{"h":4.43,"v":7.4},{"h":4.63,"v":7.4},{"h":4.84,"v":7.2},{"h":5.05,"v":7.1},{"h":5.47,"v":7.1},{"h":5.89,"v":7.25},{"h":6.2,"v":7.4},{"h":6.41,"v":6.9},{"h":6.51,"v":6.75},{"h":6.68,"v":7.0},{"h":6.76,"v":7.75},{"h":6.85,"v":10.65},{"h":6.93,"v":11.0},{"h":6.99,"v":10.65},{"h":7.1,"v":11.4},{"h":7.18,"v":11.3},{"h":7.35,"v":10.95},{"h":7.52,"v":11.3},{"h":7.77,"v":11.4},{"h":8.08,"v":11.3},{"h":8.39,"v":11.1},{"h":8.81,"v":10.9},{"h":9.23,"v":10.7},{"h":9.65,"v":10.45},{"h":10.06,"v":10.15},{"h":10.48,"v":9.8},{"h":10.9,"v":9.45},{"h":11.52,"v":9.2},{"h":12.15,"v":9.05},{"h":12.78,"v":8.95},{"h":13.4,"v":8.9},{"h":14.24,"v":8.85},{"h":15.07,"v":8.85},{"h":15.91,"v":8.75},{"h":16.51,"v":8.7},{"h":17.33,"v":8.75},{"h":18.0,"v":8.7},{"h":18.38,"v":8.6},{"h":18.79,"v":8.95},{"h":19.21,"v":9.25},{"h":19.63,"v":9.45},{"h":20.04,"v":9.65},{"h":20.46,"v":9.75},{"h":20.88,"v":9.8},{"h":21.5,"v":9.9},{"h":21.92,"v":9.9},{"h":22.33,"v":9.9},{"h":22.75,"v":9.75},{"h":23.17,"v":9.55},{"h":23.58,"v":9.4},{"h":24.0,"v":9.45},{"h":24.21,"v":9.05},{"h":24.42,"v":8.1},{"h":24.63,"v":7.6},{"h":24.83,"v":7.75},{"h":25.04,"v":8.0},{"h":25.25,"v":7.85},{"h":25.56,"v":7.85},{"h":25.88,"v":7.5},{"h":26.04,"v":7.0},{"h":26.19,"v":6.0},{"h":26.4,"v":5.9},{"h":26.6,"v":6.3},{"h":26.81,"v":6.65},{"h":27.02,"v":6.4},{"h":27.23,"v":7.0},{"h":27.44,"v":7.0},{"h":27.75,"v":7.0},{"h":27.96,"v":7.5},{"h":28.17,"v":6.9},{"h":28.38,"v":7.0},{"h":28.69,"v":8.0},{"h":29.0,"v":7.6},{"h":29.31,"v":7.5},{"h":29.63,"v":7.4},{"h":29.94,"v":7.05},{"h":30.25,"v":7.0},{"h":30.46,"v":6.9},{"h":30.67,"v":6.8},{"h":30.88,"v":6.75},{"h":31.19,"v":6.75},{"h":31.29,"v":12.35},{"h":31.5,"v":12.85},{"h":31.81,"v":12.8},{"h":32.13,"v":13.1},{"h":32.33,"v":13.0},{"h":32.75,"v":12.6},{"h":33.17,"v":12.25},{"h":33.58,"v":12.0},{"h":34.0,"v":11.6},{"h":34.42,"v":11.35},{"h":34.83,"v":11.2},{"h":35.25,"v":11.0},{"h":35.67,"v":10.8},{"h":36,"v":10.55}]
},
"vconcat": [
{
 "width": 575, "height": 192,
 "title": {"text": "(a)", "offset": -30},
 "resolve": {"axis": {"y": "independent"}},
 "layer": [
  {"data": {"name": "aWrf"}, "mark": {"type": "line", "strokeWidth": 1.2},
   "encoding": {
    "x": {"field": "h", "type": "quantitative", "scale": {"domain": [0, 36], "nice": false, "zero": false}, "axis": {"title": "Day-hour (UTC)", "titleFontSize": 18, "titlePadding": 12, "values": [0,3,6,9,12,15,18,21,24,27,30,33,36], "tickSize": {"condition": {"test": "datum.value % 6 === 0", "value": 12}, "value": 7}, "labelPadding": 2, "labelExpr": "datum.value % 6 === 0 ? (5 + floor((datum.value + 12) / 24)) + '-' + (((datum.value + 12) % 24) < 10 ? '0' : '') + ((datum.value + 12) % 24) + '00' : ''"}},
    "y": {"field": "v", "type": "quantitative", "scale": {"domain": [6, 37], "nice": false, "zero": false}, "axis": {"orient": "right", "title": null, "labels": false, "values": [6,7,8,9,10,11,12,13,14,15,16,17,18,19,20,21,22,23,24,25,26,27,28,29,30,31,32,33,34,35,36,37], "tickSize": {"condition": {"test": "datum.value % 5 === 0", "value": 13}, "value": 7}}},
    "color": {"datum": "WRF", "type": "nominal", "scale": {"domain": ["Observation", "WRF"], "range": ["black", "#FF7F50"]}, "legend": {"title": null, "orient": "none", "legendX": 91, "legendY": 0, "direction": "horizontal", "symbolType": "M-4,0L4,0", "symbolSize": 400, "symbolStrokeWidth": 4, "labelFontSize": 19.5, "labelFont": "Liberation Sans", "labelColor": "black", "labelOffset": 60, "columnPadding": 95, "padding": 0}}
   }},
  {"data": {"name": "aObs"}, "mark": {"type": "line", "strokeWidth": 1.2},
   "encoding": {
    "x": {"field": "h", "type": "quantitative", "scale": {"domain": [0, 36], "nice": false, "zero": false}, "axis": {"title": "Day-hour (UTC)", "titleFontSize": 18, "titlePadding": 12, "values": [0,3,6,9,12,15,18,21,24,27,30,33,36], "tickSize": {"condition": {"test": "datum.value % 6 === 0", "value": 12}, "value": 7}, "labelPadding": 2, "labelExpr": "datum.value % 6 === 0 ? (5 + floor((datum.value + 12) / 24)) + '-' + (((datum.value + 12) % 24) < 10 ? '0' : '') + ((datum.value + 12) % 24) + '00' : ''"}},
    "y": {"field": "v", "type": "quantitative", "scale": {"domain": [6, 37], "nice": false, "zero": false}, "axis": {"orient": "left", "title": "Temperature (°C)", "titlePadding": 10, "labelPadding": 7, "values": [6,7,8,9,10,11,12,13,14,15,16,17,18,19,20,21,22,23,24,25,26,27,28,29,30,31,32,33,34,35,36,37], "tickSize": {"condition": {"test": "datum.value % 5 === 0", "value": 13}, "value": 7}, "labelFontSize": {"condition": {"test": "datum.value % 5 === 0", "value": 18}, "value": 0.1}, "labelExpr": "datum.value % 5 === 0 ? format(datum.value, 'd') : ''"}},
    "color": {"datum": "Observation", "type": "nominal"}
   }}
 ]
},
{
 "width": 575, "height": 192,
 "title": {"text": "(b)", "offset": -66},
 "resolve": {"axis": {"y": "independent"}},
 "layer": [
  {"data": {"name": "bWrf"}, "mark": {"type": "line", "strokeWidth": 1.2},
   "encoding": {
    "x": {"field": "h", "type": "quantitative", "scale": {"domain": [0, 36], "nice": false, "zero": false}, "axis": {"title": "Day-hour (UTC)", "titleFontSize": 18, "titlePadding": 12, "values": [0,3,6,9,12,15,18,21,24,27,30,33,36], "tickSize": {"condition": {"test": "datum.value % 6 === 0", "value": 12}, "value": 7}, "labelPadding": 2, "labelExpr": "datum.value % 6 === 0 ? (5 + floor((datum.value + 12) / 24)) + '-' + (((datum.value + 12) % 24) < 10 ? '0' : '') + ((datum.value + 12) % 24) + '00' : ''"}},
    "y": {"field": "v", "type": "quantitative", "scale": {"domain": [0, 14], "nice": false}, "axis": {"orient": "right", "title": null, "labels": false, "values": [0,0.5,1,1.5,2,2.5,3,3.5,4,4.5,5,5.5,6,6.5,7,7.5,8,8.5,9,9.5,10,10.5,11,11.5,12,12.5,13,13.5,14], "tickSize": {"condition": {"test": "datum.value % 2 === 0", "value": 13}, "value": 7}}},
    "color": {"datum": "WRF", "type": "nominal", "scale": {"domain": ["Observation", "WRF"], "range": ["black", "#FF7F50"]}, "legend": null}
   }},
  {"data": {"name": "bObs"}, "mark": {"type": "line", "strokeWidth": 1.2},
   "encoding": {
    "x": {"field": "h", "type": "quantitative", "scale": {"domain": [0, 36], "nice": false, "zero": false}, "axis": {"title": "Day-hour (UTC)", "titleFontSize": 18, "titlePadding": 12, "values": [0,3,6,9,12,15,18,21,24,27,30,33,36], "tickSize": {"condition": {"test": "datum.value % 6 === 0", "value": 12}, "value": 7}, "labelPadding": 2, "labelExpr": "datum.value % 6 === 0 ? (5 + floor((datum.value + 12) / 24)) + '-' + (((datum.value + 12) % 24) < 10 ? '0' : '') + ((datum.value + 12) % 24) + '00' : ''"}},
    "y": {"field": "v", "type": "quantitative", "scale": {"domain": [0, 14], "nice": false}, "axis": {"orient": "left", "title": "Horizontal wind speed (m s⁻¹)", "titlePadding": 10, "labelPadding": 7, "values": [0,0.5,1,1.5,2,2.5,3,3.5,4,4.5,5,5.5,6,6.5,7,7.5,8,8.5,9,9.5,10,10.5,11,11.5,12,12.5,13,13.5,14], "tickSize": {"condition": {"test": "datum.value % 2 === 0", "value": 13}, "value": 7}, "labelExpr": "datum.value % 2 === 0 ? format(datum.value, 'd') : ''"}},
    "color": {"datum": "Observation", "type": "nominal"}
   }}
 ]
},
{
 "width": 575, "height": 192,
 "title": {"text": "(c)", "offset": -69},
 "resolve": {"axis": {"y": "independent"}},
 "layer": [
  {"data": {"name": "cWrf"}, "mark": {"type": "point", "shape": "M0,-1L0,1M-0.866,-0.5L0.866,0.5M-0.866,0.5L0.866,-0.5", "filled": false, "size": 55, "strokeWidth": 1.4, "opacity": 1},
   "encoding": {
    "x": {"field": "h", "type": "quantitative", "scale": {"domain": [0, 36], "nice": false, "zero": false}, "axis": {"title": "Day-hour (UTC)", "titleFontSize": 18, "titlePadding": 12, "values": [0,3,6,9,12,15,18,21,24,27,30,33,36], "tickSize": {"condition": {"test": "datum.value % 6 === 0", "value": 12}, "value": 7}, "labelPadding": 2, "labelExpr": "datum.value % 6 === 0 ? (5 + floor((datum.value + 12) / 24)) + '-' + (((datum.value + 12) % 24) < 10 ? '0' : '') + ((datum.value + 12) % 24) + '00' : ''"}},
    "y": {"field": "v", "type": "quantitative", "scale": {"domain": [0, 360], "nice": false}, "axis": {"orient": "right", "title": null, "labels": false, "values": [0,45,90,135,180,225,270,315], "tickSize": {"condition": {"test": "datum.value % 90 === 0", "value": 13}, "value": 7}}},
    "color": {"datum": "WRF", "type": "nominal", "scale": {"domain": ["Observation", "WRF"], "range": ["black", "#FF7F50"]}, "legend": null}
   }},
  {"data": {"name": "cObs"}, "mark": {"type": "point", "shape": "M0,-1L0,1M-0.866,-0.5L0.866,0.5M-0.866,0.5L0.866,-0.5", "filled": false, "size": 55, "strokeWidth": 1.4, "opacity": 1},
   "encoding": {
    "x": {"field": "h", "type": "quantitative", "scale": {"domain": [0, 36], "nice": false, "zero": false}, "axis": {"title": "Day-hour (UTC)", "titleFontSize": 18, "titlePadding": 12, "values": [0,3,6,9,12,15,18,21,24,27,30,33,36], "tickSize": {"condition": {"test": "datum.value % 6 === 0", "value": 12}, "value": 7}, "labelPadding": 2, "labelExpr": "datum.value % 6 === 0 ? (5 + floor((datum.value + 12) / 24)) + '-' + (((datum.value + 12) % 24) < 10 ? '0' : '') + ((datum.value + 12) % 24) + '00' : ''"}},
    "y": {"field": "v", "type": "quantitative", "scale": {"domain": [0, 360], "nice": false}, "axis": {"orient": "left", "title": "Horizontal wind direction (deg)", "titlePadding": 8, "labelPadding": 7, "values": [0,45,90,135,180,225,270,315], "tickSize": {"condition": {"test": "datum.value % 90 === 0", "value": 13}, "value": 7}, "labelExpr": "datum.value % 90 === 0 ? format(datum.value, 'd') : ''"}},
    "color": {"datum": "Observation", "type": "nominal"}
   }}
 ]
},
{
 "width": 575, "height": 192,
 "title": {"text": "(d)", "offset": -50},
 "resolve": {"axis": {"y": "independent"}},
 "layer": [
  {"data": {"name": "dWrf"}, "mark": {"type": "line", "strokeWidth": 1.2},
   "encoding": {
    "x": {"field": "h", "type": "quantitative", "scale": {"domain": [0, 36], "nice": false, "zero": false}, "axis": {"title": "Day-hour (UTC)", "titleFontSize": 18, "titlePadding": 12, "values": [0,3,6,9,12,15,18,21,24,27,30,33,36], "tickSize": {"condition": {"test": "datum.value % 6 === 0", "value": 12}, "value": 7}, "labelPadding": 2, "labelExpr": "datum.value % 6 === 0 ? (5 + floor((datum.value + 12) / 24)) + '-' + (((datum.value + 12) % 24) < 10 ? '0' : '') + ((datum.value + 12) % 24) + '00' : ''"}},
    "y": {"field": "v", "type": "quantitative", "scale": {"domain": [2, 16], "nice": false, "zero": false}, "axis": {"orient": "right", "title": null, "labels": false, "values": [2,2.5,3,3.5,4,4.5,5,5.5,6,6.5,7,7.5,8,8.5,9,9.5,10,10.5,11,11.5,12,12.5,13,13.5,14,14.5,15,15.5,16], "tickSize": {"condition": {"test": "datum.value % 2 === 0", "value": 13}, "value": 7}}},
    "color": {"datum": "WRF", "type": "nominal", "scale": {"domain": ["Observation", "WRF"], "range": ["black", "#FF7F50"]}, "legend": null}
   }},
  {"data": {"name": "dObs"}, "mark": {"type": "line", "strokeWidth": 1.2},
   "encoding": {
    "x": {"field": "h", "type": "quantitative", "scale": {"domain": [0, 36], "nice": false, "zero": false}, "axis": {"title": "Day-hour (UTC)", "titleFontSize": 18, "titlePadding": 12, "values": [0,3,6,9,12,15,18,21,24,27,30,33,36], "tickSize": {"condition": {"test": "datum.value % 6 === 0", "value": 12}, "value": 7}, "labelPadding": 2, "labelExpr": "datum.value % 6 === 0 ? (5 + floor((datum.value + 12) / 24)) + '-' + (((datum.value + 12) % 24) < 10 ? '0' : '') + ((datum.value + 12) % 24) + '00' : ''"}},
    "y": {"field": "v", "type": "quantitative", "scale": {"domain": [2, 16], "nice": false, "zero": false}, "axis": {"orient": "left", "title": "Specific humidity (g kg⁻¹)", "titlePadding": 10, "labelPadding": 7, "values": [2,2.5,3,3.5,4,4.5,5,5.5,6,6.5,7,7.5,8,8.5,9,9.5,10,10.5,11,11.5,12,12.5,13,13.5,14,14.5,15,15.5,16], "tickSize": {"condition": {"test": "datum.value % 2 === 0", "value": 13}, "value": 7}, "labelExpr": "datum.value % 2 === 0 ? format(datum.value, 'd') : ''"}},
    "color": {"datum": "Observation", "type": "nominal"}
   }}
 ]
}
]
}
